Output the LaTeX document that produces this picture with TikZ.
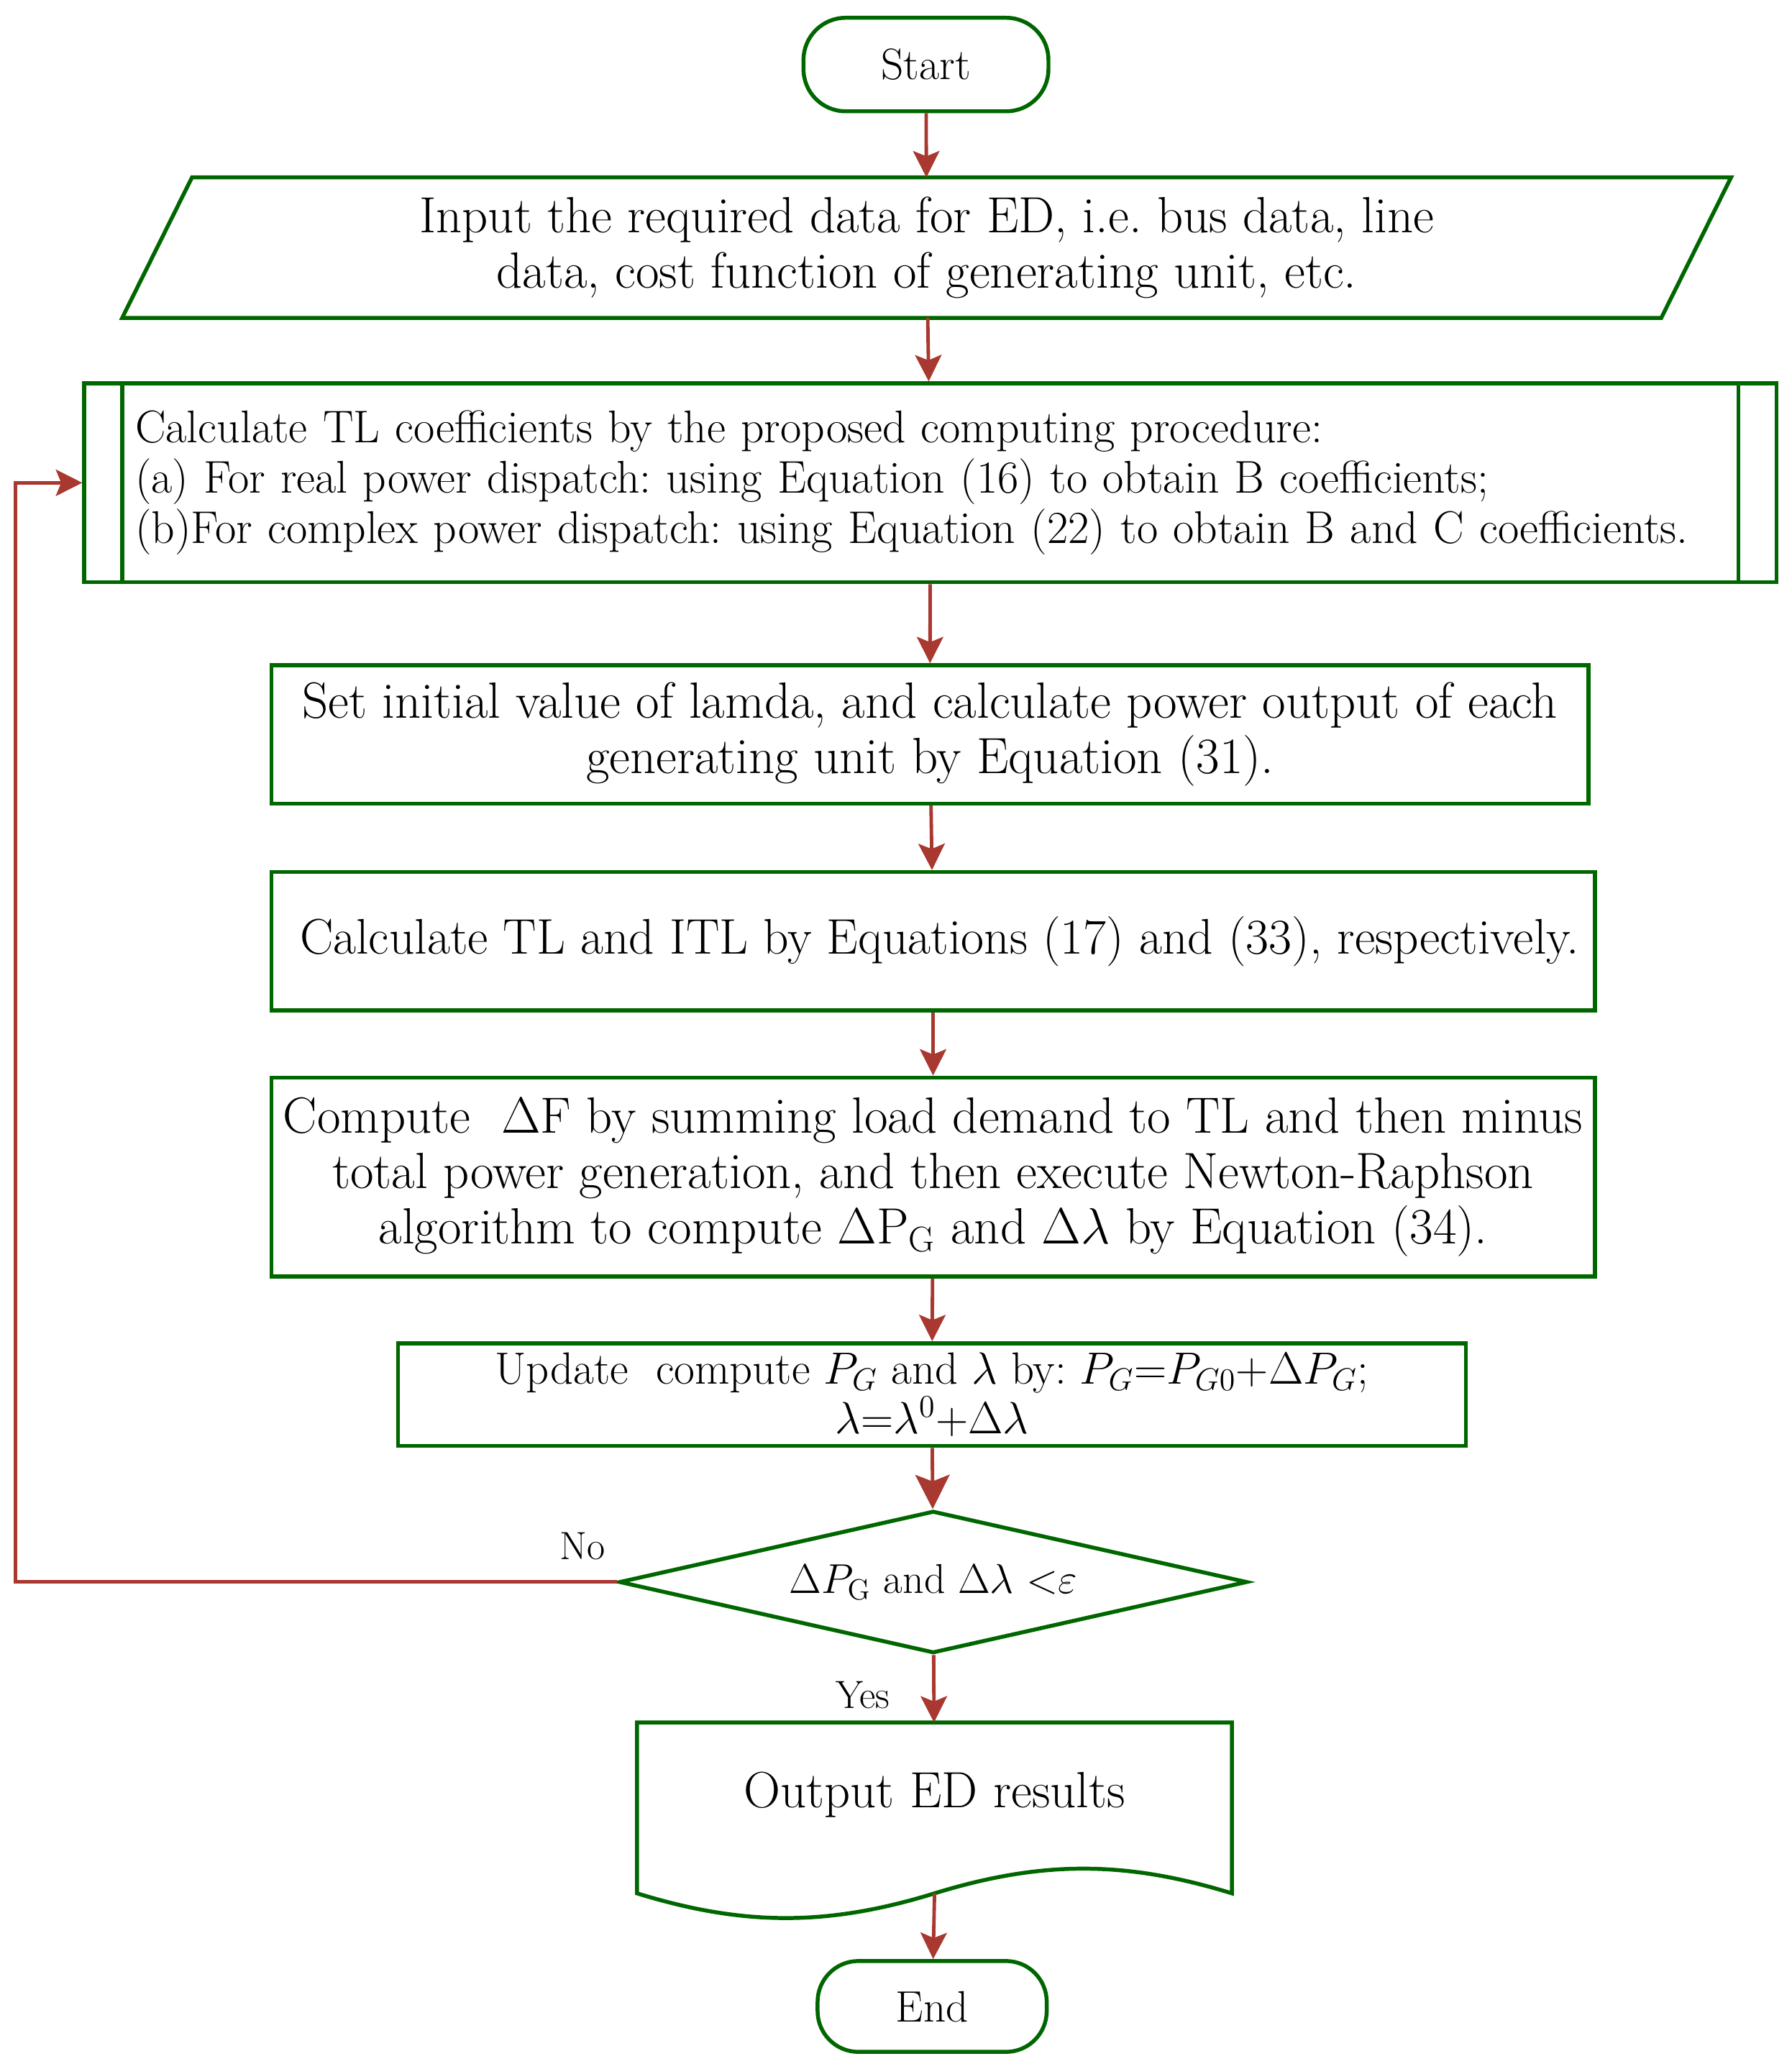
\RequirePackage{fix-cm}
\documentclass[tikz,border=0pt]{standalone}
\usepackage{xcolor}
\definecolor{boxgreen}{RGB}{0,102,0}
\definecolor{flowred}{RGB}{168,56,48}
\usepackage{tikz}
\usetikzlibrary{arrows.meta}
\usetikzlibrary{shapes.geometric}
\frenchspacing

\begin{document}
\begin{tikzpicture}[x=0.02cm, y=-0.02cm,
    font=\fontsize{22}{24}\selectfont,
    box/.style={draw=boxgreen, line width=1.7pt, align=center, inner sep=0pt},
    flow/.style={draw=flowred, line width=1.5pt,
      -{Stealth[length=0.4cm, width=0.4cm, inset=0.08cm]}}]
    \useasboundingbox (0, 0) rectangle (1360, 1570.7);

    \node [box, rounded corners=0.64cm, minimum width=3.72cm,
      minimum height=1.42cm, font=\fontsize{19}{24}\selectfont] (start) at (703, 49) {Start};

    % parallelogram, drawn round an empty node
    \node [minimum width=24.42cm, minimum height=2.12cm, inner sep=0pt,
      align=center] (input) at (703.5, 188)
    {Input the required data for ED, i.e.\ bus data, line\\
      data, cost function of generating unit, etc.};
    \draw [boxgreen, line width=1.7pt] (input.south west)
    -- ([xshift=1.06cm]input.north west) -- (input.north east)
    -- ([xshift=-1.06cm]input.south east) -- cycle;

    \node [box, minimum width=25.7cm, minimum height=3.02cm,
      text width=24.15cm, align=left, inner xsep=0.774cm,
      font=\fontsize{19.8}{21.8}\selectfont] (coef) at (706.3, 366.5)
    {Calculate TL coefficients by the proposed computing procedure:\\
      (a) For real power dispatch: using Equation (16) to obtain B coefficients;\\
      (b)For complex power dispatch: using Equation (22) to obtain B and C coefficients.};
    \draw [boxgreen, line width=1.7pt] ([xshift=0.61cm]coef.north west)
    -- ([xshift=0.61cm]coef.south west);
    \draw [boxgreen, line width=1.7pt] ([xshift=-0.61cm]coef.north east)
    -- ([xshift=-0.61cm]coef.south east);

    \node [box, minimum width=20cm, minimum height=2.1cm] (init) at (706, 557.5)
    {Set initial value of lamda, and calculate power output of each\\
      generating unit by Equation (31).};

    \node [box, minimum width=20.1cm, minimum height=2.1cm,
      font=\fontsize{21.6}{24}\selectfont] (loss) at (708.4, 714.5)
    {\hspace*{0.2cm}Calculate TL and ITL by Equations (17) and (33), respectively.};

    \node [box, minimum width=20.1cm, minimum height=3.02cm] (newton) at (708.4, 893.5)
    {Compute \ $\Delta$F by summing load demand to TL and then minus\\
      total power generation, and then execute Newton-Raphson\\
      algorithm to compute $\Delta$P\textsubscript{G} and $\Delta\lambda$ by Equation (34).};

    \node [box, minimum width=16.22cm, minimum height=1.56cm,
      font=\fontsize{19.5}{21.5}\selectfont] (update) at (707.5, 1058.7)
    {Update \ compute $P_G$ and $\lambda$ by: $P_G$=$P_{G0}$+$\Delta P_G$;\\
      $\lambda$=$\lambda^0$+$\Delta\lambda$};

    \node [box, diamond, aspect=4.42, minimum width=9.54cm, minimum height=2.16cm,
      font=\fontsize{18}{22}\selectfont] (check) at (708.5, 1201)
    {$\Delta P_{\mathrm{G}}$ and $\Delta\lambda$ ${<}\varepsilon$};

    % document shape, drawn round an empty node
    \node [minimum width=9.02cm, minimum height=2.58cm, inner sep=0pt] (output) at (709.5, 1372.5)
    {\raisebox{0pt}[0pt][0pt]{Output ED results}};
    \draw [boxgreen, line width=1.7pt] (output.south west) -- (output.north west)
    -- (output.north east) -- (output.south east)
    .. controls +(-81, -25) and +(81, -25) .. (output.south)
    .. controls +(-81, 25) and +(81, 25) .. (output.south west) -- cycle;

    \node [box, rounded corners=0.62cm, minimum width=3.48cm,
      minimum height=1.38cm, font=\fontsize{19}{24}\selectfont] (finish) at (707.7, 1523.2) {End};

    \node [font=\fontsize{17}{20}\selectfont] (no) at (442, 1174) {No};
    \node [font=\fontsize{17}{20}\selectfont] (yes) at (655, 1287) {Yes};

    \draw [flow] (start) -- (input);
    \draw [flow] (input) -- (coef);
    \draw [flow] (coef) -- (init);
    \draw [flow] (init) -- (loss);
    \draw [flow] (loss) -- (newton);
    \draw [flow] (newton) -- (update);
    \draw [flow, -{Stealth[length=0.52cm, width=0.52cm, inset=0.1cm]}] (update) -- (check);
    \draw [flow] (check) -- (output);
    \draw [flow] (output.south) -- (finish);
    \draw [flow] (check.west) -- ++(-457, 0) |- (coef.west);

  \end{tikzpicture}
\end{document}
